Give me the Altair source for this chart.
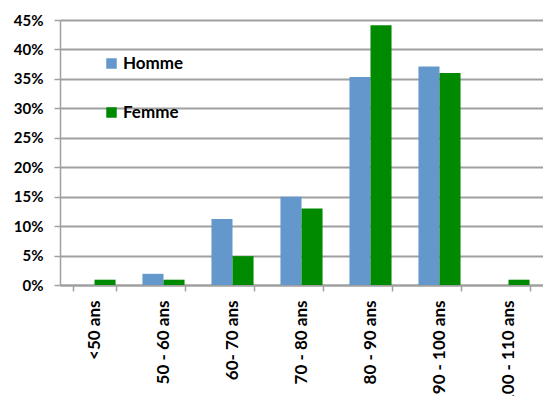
import altair as alt
import pandas as pd

# Age groups and share of each sex (%)
categories = ["<50 ans", "50 - 60 ans", "60- 70 ans", "70 - 80 ans",
              "80 - 90 ans", "90 - 100 ans", "100 - 110 ans"]
homme = [0, 1.9, 11.2, 15.0, 35.3, 37.1, 0]
femme = [0.9, 0.9, 4.9, 13.0, 44.1, 36.0, 0.9]
series = ["Homme", "Femme"]
colors = ["#6497CB", "#008A00"]
y_ticks = [0, 5, 10, 15, 20, 25, 30, 35, 40, 45]

rows = []
for cat, h, f in zip(categories, homme, femme):
    rows.append({"age": cat, "sexe": "Homme", "pct": h})
    rows.append({"age": cat, "sexe": "Femme", "pct": f})
df = pd.DataFrame(rows)

FONT = "Lato"

chart = alt.Chart(df).mark_bar().encode(
    x=alt.X("age:N", sort=categories, title=None,
            scale=alt.Scale(paddingInner=0.39, paddingOuter=0.195),
            axis=alt.Axis(labelAngle=270, labelAlign="right", labelBaseline="middle",
                          labelFont=FONT, labelFontWeight="bold", labelFontSize=17,
                          labelColor="black", labelPadding=9, tickBand="extent",
                          tickColor="#a0a0a0", tickSize=6, tickWidth=1.5,
                          domainColor="#a0a0a0", domainWidth=2, grid=False)),
    xOffset=alt.XOffset("sexe:N", sort=series, scale=alt.Scale(domain=series)),
    y=alt.Y("pct:Q", title=None,
            scale=alt.Scale(domain=[0, 45], nice=False),
            axis=alt.Axis(values=y_ticks, labelExpr="datum.value + '%'",
                          labelFont=FONT, labelFontWeight="bold", labelFontSize=15,
                          labelColor="black", labelPadding=11,
                          tickColor="#a0a0a0", tickSize=6, tickWidth=1.5,
                          domainColor="#a0a0a0", domainWidth=1.5,
                          gridColor="#a0a0a0", gridWidth=2)),
    color=alt.Color("sexe:N", sort=series,
                    scale=alt.Scale(domain=series, range=colors),
                    legend=alt.Legend(title=None, orient="none", legendX=43, legendY=35,
                                      symbolType="square", symbolSize=110,
                                      symbolStrokeWidth=0, rowPadding=31,
                                      labelFont=FONT, labelFontWeight="bold",
                                      labelFontSize=17, labelColor="black",
                                      labelOffset=3)),
).properties(
    width=483, height=265,
    padding={"left": 60, "top": 20, "right": 0, "bottom": 111},
    autosize=alt.AutoSizeParams(type="none"),
).configure_view(stroke=None).configure(background="white")

chart.save("out.html", embed_options={"renderer": "svg", "actions": False})
